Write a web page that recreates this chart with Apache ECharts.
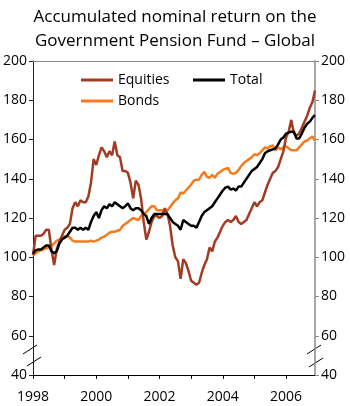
<!DOCTYPE html>
<html>
<head>
<meta charset="utf-8">
<script src="https://cdn.jsdelivr.net/npm/echarts@6/dist/echarts.min.js"></script>
<style>
  html, body { margin: 0; padding: 0; background: #fff; }
  #chart { width: 350px; height: 406px; }
</style>
</head>
<body>
<div id="chart"></div>
<script>
// monthly index values, Jan 1998 .. Dec 2006
const startYear = 1998;
const equities = [
  101, 111, 111, 111, 112, 114, 114, 104, 96, 104, 108, 111,
  114, 115, 117, 125, 128, 126, 129, 128, 128, 131, 138, 150,
  147, 152, 156, 154, 151, 154, 152, 159, 152, 151, 144, 144,
  143, 138, 130, 139, 137, 130, 118, 109, 113, 118, 121, 121,
  120, 121, 125, 122, 116, 106, 100, 98, 89, 99, 97, 93,
  88, 87, 86, 87, 92, 96, 99, 105, 103, 108, 110, 113,
  116, 118, 119, 118, 119, 121, 118, 117, 118, 119, 122, 125,
  128, 126, 128, 129, 133, 137, 140, 143, 144, 146, 150, 154,
  161, 164, 170, 163, 162, 163, 166, 169, 172, 176, 179, 185
];
const total = [
  102, 103.5, 104, 104, 105, 106, 106, 103, 102, 103, 107, 109,
  110, 111, 113, 115, 115, 114, 115, 114, 115, 114, 118, 121,
  123, 120, 124, 126, 125, 127, 126, 128, 127, 126, 125, 126,
  127.5, 125, 124, 125, 125, 124, 122, 121, 117, 120, 122, 122,
  122, 122, 122, 122, 120, 118, 117, 116, 114, 119, 118, 117,
  116, 116, 115, 118, 121, 123, 124, 125, 126, 128, 130, 132,
  134, 135.5, 136, 134.5, 135, 134, 136, 136, 138, 140, 142, 144,
  145, 146, 148, 150, 153, 154, 154.5, 155, 155.5, 157.5, 160, 161,
  163, 163.5, 164, 164, 160.5, 160.5, 163, 166, 168, 169, 171, 172.5
];
const bonds = [
  101, 102, 103, 103.5, 104, 104.5, 105, 106, 107, 108.5, 109, 110,
  110.5, 111, 110, 108.5, 108, 108, 108, 108, 108, 108, 108.5, 108,
  108.5, 109, 110, 110.5, 111.5, 112.5, 113, 113, 113.5, 114, 116, 117,
  118, 119, 120, 119.5, 119, 121, 122, 123, 124.5, 126, 126, 124,
  124, 124, 123, 124, 125.5, 127.5, 129, 130, 133, 132.5, 134, 135.5,
  137, 139, 139.5, 139.5, 142, 143.5, 141, 140.5, 142, 140.5, 142.5, 143.5,
  144.5, 145, 145.5, 143, 142.5, 143, 144.5, 146.5, 148, 149, 150, 151,
  152.5, 152, 153, 154.5, 156, 155.5, 156.5, 157, 154.5, 156, 155, 156,
  156.5, 155.5, 154.5, 154.5, 154.5, 156, 157.5, 159, 159.5, 160.5, 161.5, 159.5
];
const yearLabels = [1998, 2000, 2002, 2004, 2006];
const yTicks = [40, 60, 80, 100, 120, 140, 160, 180, 200];

const pairs = arr => arr.map((v, i) => [startYear + i / 12, v]);

const font = '"Open Sans", sans-serif';
const chart = echarts.init(document.getElementById('chart'));

const yAxisBase = {
  type: 'value',
  min: yTicks[0],
  max: yTicks[yTicks.length - 1],
  interval: 20,
  splitLine: { show: false },
  axisTick: { show: true, inside: false, length: 4 },
  axisLabel: { fontFamily: font, fontSize: 14, color: '#000' }
};

chart.setOption({
  animation: false,
  title: {
    text: 'Accumulated nominal return on the\nGovernment Pension Fund \u2013 Global',
    left: 'center',
    top: 0,
    textStyle: { fontFamily: font, fontSize: 17, fontWeight: 'normal', color: '#000', lineHeight: 24 }
  },
  legend: [
    {
      data: ['Equities', 'Bonds'],
      orient: 'vertical',
      left: 76, top: 67,
      icon: 'rect', itemWidth: 32, itemHeight: 3, itemGap: 5,
      textStyle: { fontFamily: font, fontSize: 14, color: '#000', lineHeight: 16 }
    },
    {
      data: ['Total'],
      left: 188, top: 67,
      icon: 'rect', itemWidth: 32, itemHeight: 3,
      textStyle: { fontFamily: font, fontSize: 14, color: '#000', lineHeight: 16 }
    }
  ],
  grid: { left: 31, right: 35, top: 61, bottom: 31 },
  xAxis: [
    {
      type: 'value',
      min: startYear,
      max: startYear + 107 / 12,
      interval: 1,
      splitLine: { show: false },
      axisLine: { lineStyle: { color: '#000', width: 1 } },
      axisTick: { length: 4, lineStyle: { color: '#000' } },
      axisLabel: {
        fontFamily: font, fontSize: 14, color: '#000', margin: 15,
        showMaxLabel: false,
        formatter: v => yearLabels.includes(Math.round(v)) && Math.abs(v - Math.round(v)) < 1e-6 ? String(Math.round(v)) : ''
      }
    },
    {
      type: 'value',
      position: 'top',
      min: startYear,
      max: startYear + 107 / 12,
      splitLine: { show: false },
      axisLine: { show: true, lineStyle: { color: '#8a8a8a', width: 1 } },
      axisTick: { show: false },
      axisLabel: { show: false }
    }
  ],
  yAxis: [
    Object.assign({}, yAxisBase, {
      position: 'left',
      axisLine: { show: true, lineStyle: { color: '#222', width: 1 } },
      axisTick: { show: true, length: 4, lineStyle: { color: '#222' } },
      axisLabel: Object.assign({}, yAxisBase.axisLabel, { margin: 6 })
    }),
    Object.assign({}, yAxisBase, {
      position: 'right',
      axisLine: { show: true, lineStyle: { color: '#8a8a8a', width: 1.5 } },
      axisTick: { show: true, length: 4, lineStyle: { color: '#8a8a8a' } },
      axisLabel: Object.assign({}, yAxisBase.axisLabel, { margin: 6 })
    })
  ],
  series: [
    {
      name: 'Bonds', type: 'line', data: pairs(bonds), symbol: 'none',
      lineStyle: { color: '#f47b20', width: 2.5 }, itemStyle: { color: '#f47b20' }, z: 2
    },
    {
      name: 'Equities', type: 'line', data: pairs(equities), symbol: 'none',
      lineStyle: { color: '#a23b22', width: 2.5 }, itemStyle: { color: '#a23b22' }, z: 3
    },
    {
      name: 'Total', type: 'line', data: pairs(total), symbol: 'none',
      lineStyle: { color: '#000', width: 2.5 }, itemStyle: { color: '#000' }, z: 4
    }
  ],
  graphic: [
    // axis break marks
    { type: 'line', shape: { x1: 23, y1: 354, x2: 37, y2: 345 }, style: { stroke: '#000', lineWidth: 1 } },
    { type: 'line', shape: { x1: 27, y1: 366, x2: 41, y2: 357 }, style: { stroke: '#000', lineWidth: 1 } },
    { type: 'line', shape: { x1: 307, y1: 354, x2: 321, y2: 345 }, style: { stroke: '#000', lineWidth: 1 } },
    { type: 'line', shape: { x1: 309, y1: 367, x2: 323, y2: 358 }, style: { stroke: '#000', lineWidth: 1 } }
  ]
});
</script>
</body>
</html>
